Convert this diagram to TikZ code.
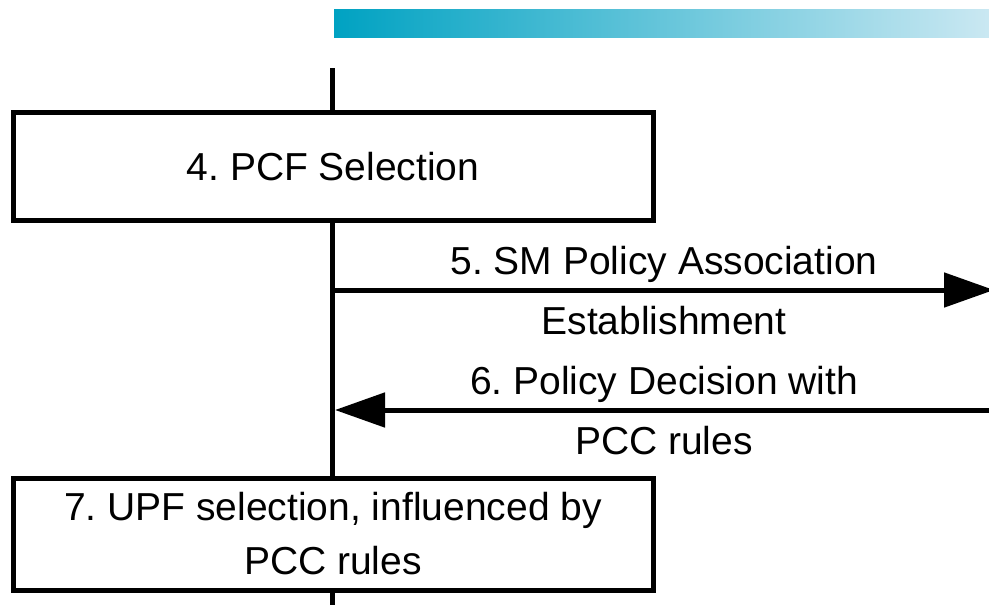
\documentclass[tikz,border=0pt]{standalone}
\usepackage{fontspec}
\setmainfont{Liberation Sans}
\usetikzlibrary{arrows.meta}
\definecolor{barleft}{HTML}{00A2C2}
\definecolor{barright}{HTML}{CAE8F2}
\frenchspacing
\begin{document}
\begin{tikzpicture}[x=1pt,y=-1pt,
  heavy/.style={line width=5pt},
  stepbox/.style={draw,heavy,minimum width=640pt,inner sep=0pt,align=center,
    font=\fontsize{39}{54}\selectfont},
  msg/.style={heavy,-{Triangle[length=50pt,width=34pt]}},
  msglabel/.style={align=center,inner sep=0pt,font=\fontsize{39}{60}\selectfont}]
\useasboundingbox (0,0) rectangle (989,605);
% header bar
\shade[left color=barleft,right color=barright] (334,9) rectangle (989,37);
% lifeline
\coordinate (top) at (332.5,68);
\coordinate (bot) at (332.5,605);
\draw[heavy] (top) -- (bot);
% boxes
\node[stepbox,minimum height=108pt,fill=white] (pcf) at (333,166.5) {4. PCF Selection};
\node[stepbox,minimum height=112pt,fill=white] (upf) at (333,534) {7. UPF selection, influenced by\\PCC rules};
% messages
\coordinate (m5a) at (332.5,290);
\coordinate (m5b) at (994,290);
\coordinate (m6a) at (989,410);
\coordinate (m6b) at (335,410);
\draw[msg] (m5a) -- (m5b);
\draw[msg] (m6a) -- (m6b);
\node[msglabel] (l5) at (664,291) {5. SM Policy Association\\Establishment};
\node[msglabel] (l6) at (664,411) {6. Policy Decision with\\PCC rules};
\end{tikzpicture}
\end{document}
